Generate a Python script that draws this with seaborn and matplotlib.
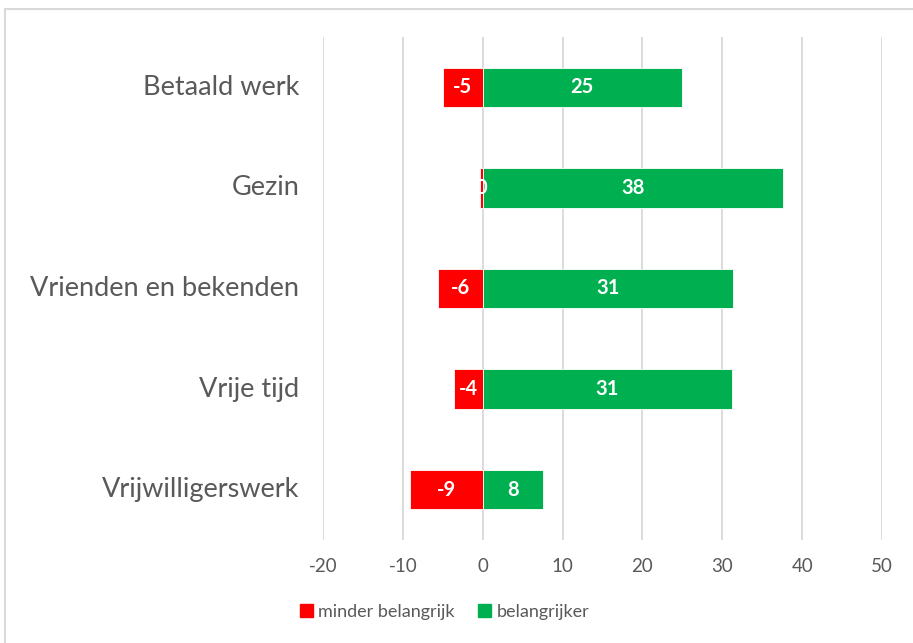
import pandas as pd
import matplotlib.pyplot as plt
import seaborn as sns
from matplotlib.patches import Rectangle

# data
categories = ['Betaald werk', 'Gezin', 'Vrienden en bekenden', 'Vrije tijd', 'Vrijwilligerswerk']
minder = [-5.0, -0.4, -5.6, -3.6, -9.1]
belangrijker = [24.9, 37.6, 31.3, 31.2, 7.6]
minder_labels = ['-5', '0', '-6', '-4', '-9']
belangrijker_labels = ['25', '38', '31', '31', '8']
series_names = ['minder belangrijk', 'belangrijker']
colors = ['#FF0000', '#00B050']
ticks = [-20, -10, 0, 10, 20, 30, 40, 50]

df = pd.DataFrame({
    'categorie': categories * 2,
    'reeks': [series_names[0]] * len(categories) + [series_names[1]] * len(categories),
    'waarde': minder + belangrijker,
})

sns.set_style('white')
plt.rcParams['font.family'] = ['Lato', 'DejaVu Sans']
grey = '#595959'

fig = plt.figure(figsize=(9.13, 6.43), dpi=100)
ax = fig.add_axes([323 / 913, 103 / 643, 559 / 913, 503 / 643])

sns.barplot(data=df, y='categorie', x='waarde', hue='reeks', dodge=False,
            palette=colors, saturation=1, width=0.39, orient='h', ax=ax, legend=False,
            edgecolor='white', linewidth=0.6)

ax.set_xlim(-20, 50)
ax.set_ylim(4.5, -0.5)
ax.set_xticks(ticks)
ax.set_xticklabels([str(t) for t in ticks], fontsize=13.5, color=grey)
ax.tick_params(axis='x', length=0, pad=13)
ax.tick_params(axis='y', length=0, pad=17)
ax.set_yticks(range(len(categories)))
ax.set_yticklabels(categories, fontsize=19.5, color=grey, va='center')
ax.xaxis.grid(True, color='#D9D9D9', linewidth=1.3)
ax.set_axisbelow(True)
for s in ax.spines.values():
    s.set_visible(False)
ax.set_xlabel('')
ax.set_ylabel('')

for cont, labs in zip(ax.containers, [minder_labels, belangrijker_labels]):
    ax.bar_label(cont, labels=labs, label_type='center', color='white',
                 fontweight='bold', fontsize=14.5)

handles = [Rectangle((0, 0), 1, 1, color=c) for c in colors]
fig.legend(handles, series_names, loc='center left', bbox_to_anchor=(284 / 913, 1 - 612 / 643),
           ncol=2, frameon=False, fontsize=13, labelcolor=grey,
           handlelength=0.7, handleheight=0.7, handletextpad=0.3, columnspacing=1.3)

fig.patches.append(Rectangle((5 / 913, -0.05), 1.0, 1 - 9 / 643 + 0.05, transform=fig.transFigure,
                             fill=False, edgecolor='#D9D9D9', linewidth=1.5))

fig.savefig('out.png', dpi=100)
